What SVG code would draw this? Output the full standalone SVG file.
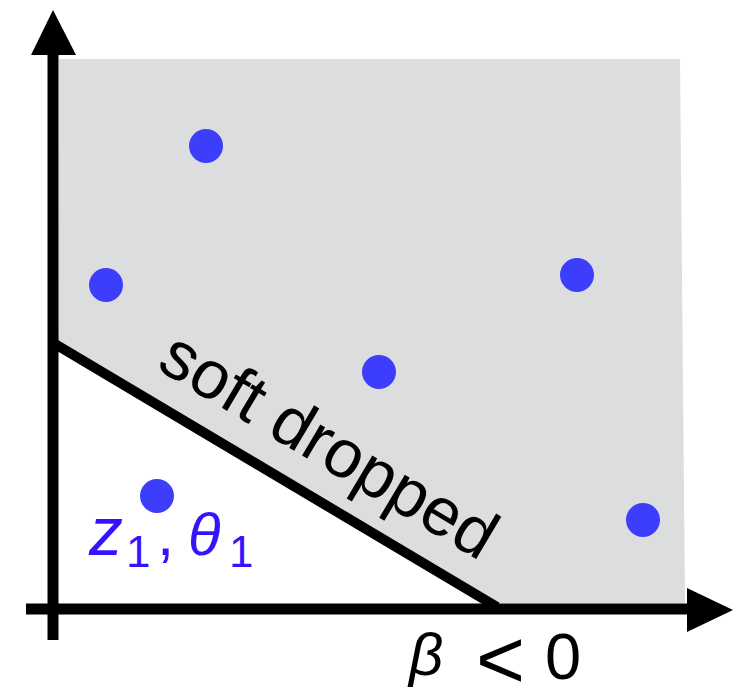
<svg xmlns="http://www.w3.org/2000/svg" width="746" height="690" viewBox="0 0 746 690">
<style>
.ax{stroke:#000;stroke-width:11;fill:none}
.dot{fill:#3d3dfc}
.lbl{font-family:"Liberation Sans",Arial,sans-serif;fill:#000}
.blue{font-family:"Liberation Sans",Arial,sans-serif;fill:#3414ff}
</style>
<rect width="746" height="690" fill="#fff"/>
<g id="region">
<polygon points="59,59 680,59 685,603 497,603 58,342" fill="#dcdddf"/>
</g>
<g id="points">
<circle class="dot" cx="206" cy="146" r="17"/>
<circle class="dot" cx="106" cy="285" r="17"/>
<circle class="dot" cx="577" cy="275" r="17"/>
<circle class="dot" cx="379" cy="372" r="17"/>
<circle class="dot" cx="157" cy="496" r="17"/>
<circle class="dot" cx="643" cy="520" r="17"/>
</g>
<g id="connectors">
<line class="ax" x1="53" y1="640" x2="53" y2="50"/>
<polygon points="53,10 31,55 76,55" fill="#000"/>
<line class="ax" x1="26" y1="609" x2="690" y2="609"/>
<polygon points="733,610 687,588 687,632" fill="#000"/>
<line x1="55" y1="344" x2="497" y2="607" stroke="#000" stroke-width="10"/>
</g>
<g id="labels">
<text class="lbl" font-size="68" transform="translate(155,368) rotate(30.75)">soft dropped</text>
<text class="blue" font-size="68" font-style="italic" x="89" y="555">z</text>
<text class="blue" font-size="44" x="126" y="567">1</text>
<text class="blue" font-size="62" x="157" y="555">,</text>
<text class="blue" font-size="60" font-style="italic" x="188" y="555">θ</text>
<text class="blue" font-size="44" x="229" y="567">1</text>
<text class="lbl" font-size="60" font-style="italic" x="409" y="675">β</text>
<text class="lbl" font-size="84" x="476" y="688">&lt;</text>
<text class="lbl" font-size="65" x="545" y="679">0</text>
</g>
</svg>
